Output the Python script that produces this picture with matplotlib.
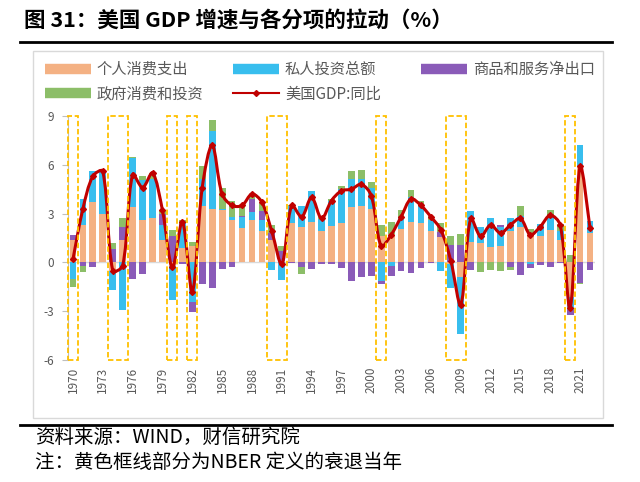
import numpy as np
import matplotlib
matplotlib.use("Agg")
import matplotlib.pyplot as plt
from matplotlib.patches import Rectangle, PathPatch
from matplotlib.path import Path
from matplotlib.lines import Line2D

plt.rcParams['font.family'] = ['Noto Sans CJK SC', 'DejaVu Sans']

# ---------------- data ----------------
years = list(range(1970, 2023))
consumption = [1.4, 2.3, 3.7, 3.0, -0.5, 1.4, 3.4, 2.6, 2.7, 1.4,
               -0.2, 0.9, 1.0, 3.45, 3.3, 3.2, 2.6, 2.1, 2.6, 1.9,
               1.35, 0.1, 2.4, 2.2, 2.5, 1.95, 2.25, 2.4, 3.4, 3.45,
               3.3, 1.6, 1.75, 2.05, 2.5, 2.4, 1.95, 1.55, -0.1, -0.9,
               1.25, 1.2, 0.95, 1.0, 1.9, 2.2, 1.8, 1.6, 2.0, 1.4,
               -2.15, 5.9, 1.8]
investment = [-1.0, 1.6, 1.9, 2.55, -1.2, -2.9, 3.0, 2.45, 2.4, 0.9,
              -2.1, 1.5, -2.45, 1.7, 4.75, 0.1, 0.2, 0.7, 0.5, 0.7,
              -0.45, -1.1, 1.05, 1.25, 1.9, 0.7, 1.5, 2.1, 1.75, 1.7,
              1.3, -1.15, -0.2, 0.7, 1.55, 1.1, 0.65, -0.5, -1.45, -3.5,
              1.9, 1.0, 1.75, 1.2, 0.85, 0.65, -0.1, 0.75, 0.78, 0.5,
              -0.75, 1.3, 0.75]
net_exports = [0.3, -0.2, -0.3, 0.05, 0.8, 0.8, -1.05, -0.7, 0.05, 0.7,
               1.6, -0.1, -0.6, -1.3, -1.55, -0.4, -0.3, 0.05, 0.8, 0.55,
               0.45, 0.6, -0.05, -0.3, -0.4, -0.1, -0.1, -0.33, -1.15, -0.9,
               -0.85, -0.2, -0.65, -0.53, -0.66, -0.33, -0.05, 0.3, 1.1, 1.05,
               -0.45, 0.0, 0.05, 0.1, -0.3, -0.76, -0.25, -0.15, -0.3, -0.05,
               -0.35, -1.25, -0.45]
government = [-0.5, -0.4, 0.0, 0.0, 0.4, 0.5, 0.05, 0.27, 0.35, 0.2,
              0.4, 0.2, 0.25, 0.75, 0.7, 1.3, 1.0, 0.6, 0.3, 0.5,
              0.5, 0.3, 0.1, -0.4, 0.0, 0.15, 0.15, 0.2, 0.45, 0.55,
              0.35, 0.7, 0.75, 0.5, 0.4, 0.3, 0.25, 0.6, 0.55, 0.7,
              0.0, -0.6, -0.45, -0.5, -0.15, 0.6, 0.25, 0.0, 0.47, 0.45,
              0.45, -0.05, 0.0]
gdp_yoy = [0.2, 3.3, 5.3, 5.6, -0.5, -0.2, 5.4, 4.6, 5.5, 3.2,
           -0.3, 2.5, -1.8, 4.6, 7.2, 4.2, 3.5, 3.5, 4.2, 3.7,
           1.9, -0.1, 3.5, 2.8, 4.0, 2.7, 3.8, 4.4, 4.5, 4.8,
           4.1, 1.0, 1.7, 2.8, 3.9, 3.5, 2.8, 2.0, 0.1, -2.6,
           2.7, 1.6, 2.3, 1.8, 2.3, 2.7, 1.7, 2.2, 2.9, 2.3,
           -2.8, 5.9, 2.1]
recession_spans = [(1970, 1970), (1974, 1975), (1980, 1980), (1982, 1982),
                   (1990, 1991), (2001, 2001), (2008, 2009), (2020, 2020)]
series_labels = ['个人消费支出', '私人投资总额', '商品和服务净出口', '政府消费和投资']
line_label = '美国GDP:同比'
yticks = [-6, -3, 0, 3, 6, 9]
xtick_years = years[::3]

title_text = '图 31：美国 GDP 增速与各分项的拉动（%）'
source_text = '资料来源：WIND，财信研究院'
note_text = '注：黄色框线部分为NBER 定义的衰退当年'

# ---------------- style ----------------
colors = ['#F4B183', '#38BEEE', '#8A5BB8', '#8CBE68']
line_color = '#C00000'
box_color = '#FFC000'
text_grey = '#595959'

W, H = 640, 482
fig = plt.figure(figsize=(W / 100, H / 100), dpi=100)
ax = fig.add_axes([68 / W, 1 - 360 / H, (595 - 68) / W, (360 - 116) / H])

x = np.arange(len(years))
pos_base = np.zeros(len(years))
neg_base = np.zeros(len(years))
for vals, c in zip([consumption, investment, net_exports, government], colors):
    v = np.array(vals, dtype=float)
    bottoms = np.where(v >= 0, pos_base, neg_base)
    ax.bar(x, v, bottom=bottoms, width=0.68, color=c, linewidth=0, zorder=2)
    pos_base = pos_base + np.where(v >= 0, v, 0)
    neg_base = neg_base + np.where(v < 0, v, 0)

# zero line
ax.axhline(0, color='#D9D9D9', lw=1.0, zorder=1)

ax.set_xlim(-0.5, len(years) - 0.5)
ax.set_ylim(-6, 9)

# smoothed GDP line: bezier with control lengths proportional to
# neighbouring segment lengths (measured in screen proportions)
P = np.column_stack([x, np.array(gdp_yoy, dtype=float)])
sx, sy = 9.94, 16.2  # screen scale used only for measuring segment lengths
S = P * np.array([sx, sy])
n = len(P)
seg = np.r_[0.0, np.hypot(*np.diff(S, axis=0).T), 0.0]  # seg[i+1] = |S[i+1]-S[i]|
verts = [tuple(P[0])]
codes = [Path.MOVETO]
k = 1.0 / 3.0
for i in range(n - 1):
    p_prev = P[i - 1] if i > 0 else P[i]
    p_next = P[i + 2] if i + 2 < n else P[i + 1]
    d1 = seg[i] if i > 0 else seg[i + 1]
    d2 = seg[i + 1]
    d3 = seg[i + 2] if i + 2 < n else seg[i + 1]
    c1 = P[i] + (P[i + 1] - p_prev) * k * d2 / (d1 + d2)
    c2 = P[i + 1] - (p_next - P[i]) * k * d2 / (d2 + d3)
    verts += [tuple(c1), tuple(c2), tuple(P[i + 1])]
    codes += [Path.CURVE4] * 3
ax.add_patch(PathPatch(Path(verts, codes), fill=False, edgecolor=line_color,
                       lw=2.2, zorder=4))
ax.plot(x, gdp_yoy, linestyle='none', marker='D', markersize=3,
        color=line_color, zorder=5)

# recession boxes
for a, b in recession_spans:
    i0 = years.index(a)
    i1 = years.index(b)
    ax.add_patch(Rectangle((i0 - 0.5, -6), i1 - i0 + 1, 15, fill=False,
                           edgecolor=box_color, lw=1.3, linestyle=(0, (3, 1.5)),
                           zorder=6, clip_on=False))

ax.set_yticks(yticks)
ax.set_yticklabels([str(t) for t in yticks])
ax.set_xticks([years.index(yv) for yv in xtick_years])
ax.set_xticklabels([str(yv) for yv in xtick_years], rotation=90)
ax.tick_params(axis='x', length=0, pad=5, labelsize=8.5, labelcolor=text_grey)
ax.tick_params(axis='y', length=4, width=0.8, color='#BFBFBF', pad=6,
               labelsize=8.5, labelcolor=text_grey)
for s in ['top', 'right', 'bottom']:
    ax.spines[s].set_visible(False)
ax.spines['left'].set_color('#BFBFBF')
ax.spines['left'].set_linewidth(0.8)
ax.set_facecolor('none')

# chart frame
fig.add_artist(Rectangle((33 / W, 1 - 418 / H), (603 - 33) / W, (418 - 51) / H,
                         transform=fig.transFigure, fill=False,
                         edgecolor='#D9D9D9', lw=1.0))

# legend: three equal-width columns, like the original
h = [Line2D([], [], color=c, lw=7.5, solid_capstyle='butt') for c in colors]
hl = Line2D([], [], color=line_color, lw=1.5, marker='D', markersize=3)
columns = [([h[0], h[3]], [series_labels[0], series_labels[3]], 45),
           ([h[1], hl], [series_labels[1], line_label], 233),
           ([h[2]], [series_labels[2]], 421)]
for hs, ls, xpx in columns:
    fig.legend(hs, ls, loc='upper left', bbox_to_anchor=(xpx / W, 1 - 61 / H),
               ncol=1, frameon=False, fontsize=11, handlelength=3.0,
               handletextpad=0.4, labelspacing=0.5,
               borderpad=0, borderaxespad=0, labelcolor=text_grey)

# title and rules
fig.text(24 / W, 1 - 21 / H, title_text, fontsize=15.5, fontweight='bold',
         va='center', ha='left', color='black')
fig.add_artist(Line2D([20 / W, 612 / W], [1 - 42 / H] * 2, color='black', lw=2,
                      transform=fig.transFigure))
fig.add_artist(Line2D([20 / W, 612 / W], [1 - 425 / H] * 2, color='black', lw=2,
                      transform=fig.transFigure))

fig.text(35 / W, 1 - 437 / H, source_text, fontsize=14, style='italic',
         va='center', ha='left', color='black')
fig.text(35 / W, 1 - 463 / H, note_text, fontsize=14, style='italic',
         va='center', ha='left', color='black')

fig.savefig('out.png', dpi=100)
